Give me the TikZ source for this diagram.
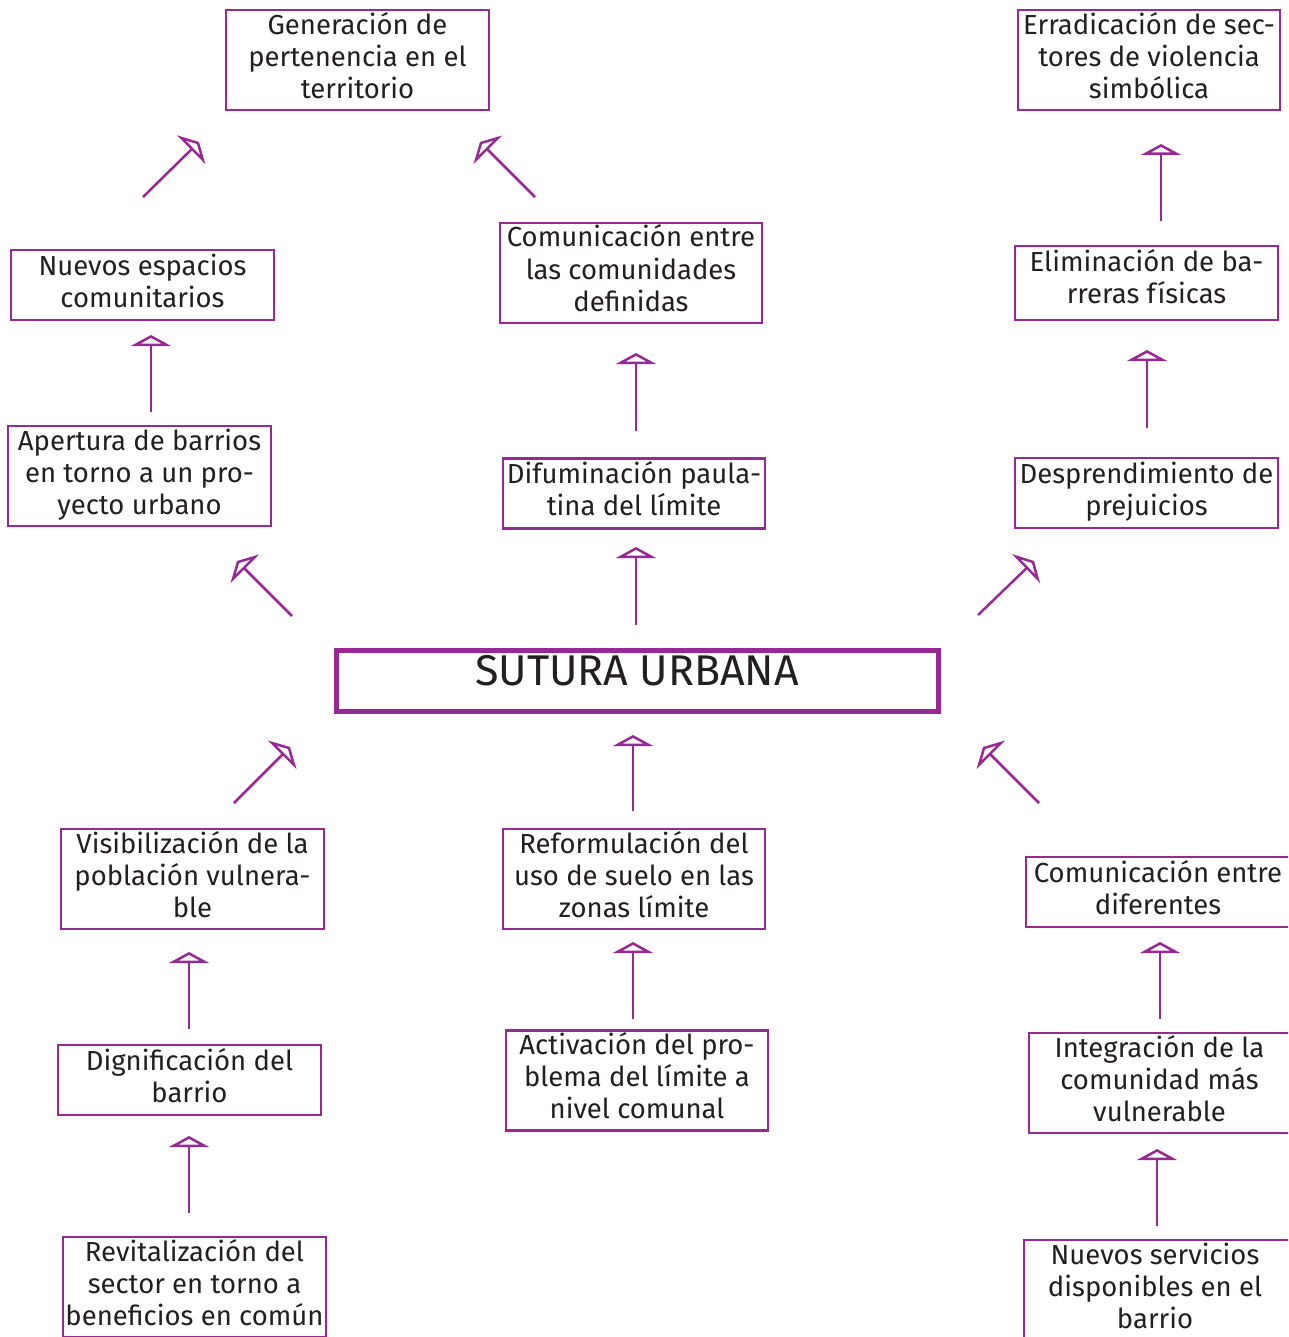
\documentclass[tikz,border=0pt]{standalone}
\usepackage{fontspec}
\setmainfont{Fira Sans}
\usetikzlibrary{arrows.meta}
\definecolor{pur}{RGB}{152,40,148}
\definecolor{txt}{RGB}{35,31,32}
\newcommand\Lst{\vrule width0pt height27pt depth9pt\relax}
\newcommand\lblfont{\fontsize{27.5}{32}\selectfont\lineskiplimit-60pt\relax\lineskip0pt\relax}
\begin{document}
\begin{tikzpicture}[x=1pt,y=-1pt,
  box/.style={draw=pur, line width=2.5pt, inner sep=0pt, minimum width=263pt},
  bthree/.style={box, minimum height=100pt},
  btwo/.style={box, minimum height=70pt},
  lbl/.style={text=txt, align=center, inner sep=0pt, font=\lblfont},
  arr/.style={draw=pur, line width=2.5pt, -{Triangle[open,length=11pt,width=40pt]}}]
\useasboundingbox (0,0) rectangle (1288,1337);
\clip (0,0) rectangle (1288,1337);
\fill[white] (0,0) rectangle (1288,1337);

% boxes
\node[bthree] (gen) at (357.5,60) {};
\node[bthree, minimum width=262pt] (err) at (1149,60) {};
\node[btwo] (nue) at (142.5,285) {};
\node[bthree, minimum width=262pt] (com) at (631,273) {};
\node[box, minimum height=74pt] (eli) at (1146.5,283) {};
\node[bthree] (ape) at (139.5,476) {};
\node[btwo, minimum width=262pt] (dif) at (634,493.5) {};
\node[btwo] (des) at (1146.5,493) {};
\node[draw=pur, line width=5pt, minimum width=602pt, minimum height=61pt, inner sep=0pt] (sut) at (637,680.5) {};
\node[bthree] (vis) at (192.5,879) {};
\node[bthree, minimum width=262pt] (ref) at (634,879) {};
\node[btwo, minimum width=264pt] (cde) at (1158,892) {};
\node[btwo] (dig) at (189.5,1080) {};
\node[bthree, minimum width=262pt] (act) at (637,1080.5) {};
\node[bthree, minimum width=261pt] (int) at (1159.5,1083) {};
\node[bthree] (rev) at (194.5,1287) {};
\node[bthree, minimum width=266pt] (nse) at (1157,1290) {};

% texts
\node[lbl] (gent) at ([yshift=2.5pt]gen.center) {\Lst Generación de\\\Lst pertenencia en el\\\Lst territorio};
\node[lbl] (errt) at ([yshift=2.5pt]err.center) {\Lst Erradicación de sec-\\\Lst tores de violencia\\\Lst simbólica};
\node[lbl] (nuet) at ([yshift=3pt]nue.center) {\Lst Nuevos espacios\\\Lst comunitarios};
\node[lbl] (comt) at ([yshift=3pt]com.center) {\Lst Comunicación entre\\\Lst las comunidades\\\Lst definidas};
\node[lbl] (elit) at ([yshift=5pt]eli.center) {\Lst Eliminación de ba-\\\Lst rreras físicas};
\node[lbl] (apet) at ([yshift=3pt]ape.center) {\Lst Apertura de barrios\\\Lst en torno a un pro-\\\Lst yecto urbano};
\node[lbl] (dift) at ([yshift=3pt]dif.center) {\Lst Difuminación paula-\\\Lst tina del límite};
\node[lbl] (dest) at ([yshift=3pt]des.center) {\Lst Desprendimiento de\\\Lst prejuicios};
\node[text=txt, font=\fontsize{43}{50}\selectfont, anchor=base, inner sep=0pt] (sutt) at (637,685) {SUTURA URBANA};
\node[lbl] (vist) at ([yshift=3pt]vis.center) {\Lst Visibilización de la\\\Lst población vulnera-\\\Lst ble};
\node[lbl] (reft) at ([yshift=3pt]ref.center) {\Lst Reformulación del\\\Lst uso de suelo en las\\\Lst zonas límite};
\node[lbl] (cdet) at ([yshift=3pt]cde.center) {\Lst Comunicación entre\\\Lst diferentes};
\node[lbl] (digt) at ([yshift=3pt]dig.center) {\Lst Dignificación del\\\Lst barrio};
\node[lbl] (actt) at ([yshift=3pt]act.center) {\Lst Activación del pro-\\\Lst blema del límite a\\\Lst nivel comunal};
\node[lbl] (intt) at ([yshift=3pt]int.center) {\Lst Integración de la\\\Lst comunidad más\\\Lst vulnerable};
\node[lbl] (revt) at ([yshift=3pt]rev.center) {\Lst Revitalización del\\\Lst sector en torno a\\\Lst beneficios en común};
\node[lbl] (nset) at ([xshift=-2pt,yshift=3pt]nse.center) {\Lst Nuevos servicios\\\Lst disponibles en el\\\Lst barrio};

% arrow end points
\coordinate (v1s) at (151,412);  \coordinate (v1e) at (151,335);
\coordinate (v2s) at (636,431);  \coordinate (v2e) at (636,353);
\coordinate (v3s) at (1147,428); \coordinate (v3e) at (1147,350);
\coordinate (v4s) at (1161,221); \coordinate (v4e) at (1161,144);
\coordinate (v5s) at (636,625);  \coordinate (v5e) at (636,547);
\coordinate (v6s) at (633,811);  \coordinate (v6e) at (633,735);
\coordinate (v7s) at (189,1029); \coordinate (v7e) at (189,952);
\coordinate (v8s) at (633,1019); \coordinate (v8e) at (633,942);
\coordinate (v9s) at (1160,1019);\coordinate (v9e) at (1160,942);
\coordinate (v10s) at (189,1213);\coordinate (v10e) at (189,1136);
\coordinate (v11s) at (1157,1226);\coordinate (v11e) at (1157,1149);
\coordinate (d1s) at (143,197);  \coordinate (d1e) at (199,142);
\coordinate (d2s) at (535,197);  \coordinate (d2e) at (480,142);
\coordinate (d3s) at (292,616);  \coordinate (d3e) at (237,561);
\coordinate (d4s) at (978,615);  \coordinate (d4e) at (1034,561);
\coordinate (d5s) at (234,803);  \coordinate (d5e) at (290,747);
\coordinate (d6s) at (1039,803); \coordinate (d6e) at (983,747);

\foreach \a in {v1,v2,v3,v4,v5,v6,v7,v8,v9,v10,v11,d1,d2,d3,d4,d5,d6}
  \draw[arr] (\a s) -- (\a e);
\end{tikzpicture}
\end{document}
